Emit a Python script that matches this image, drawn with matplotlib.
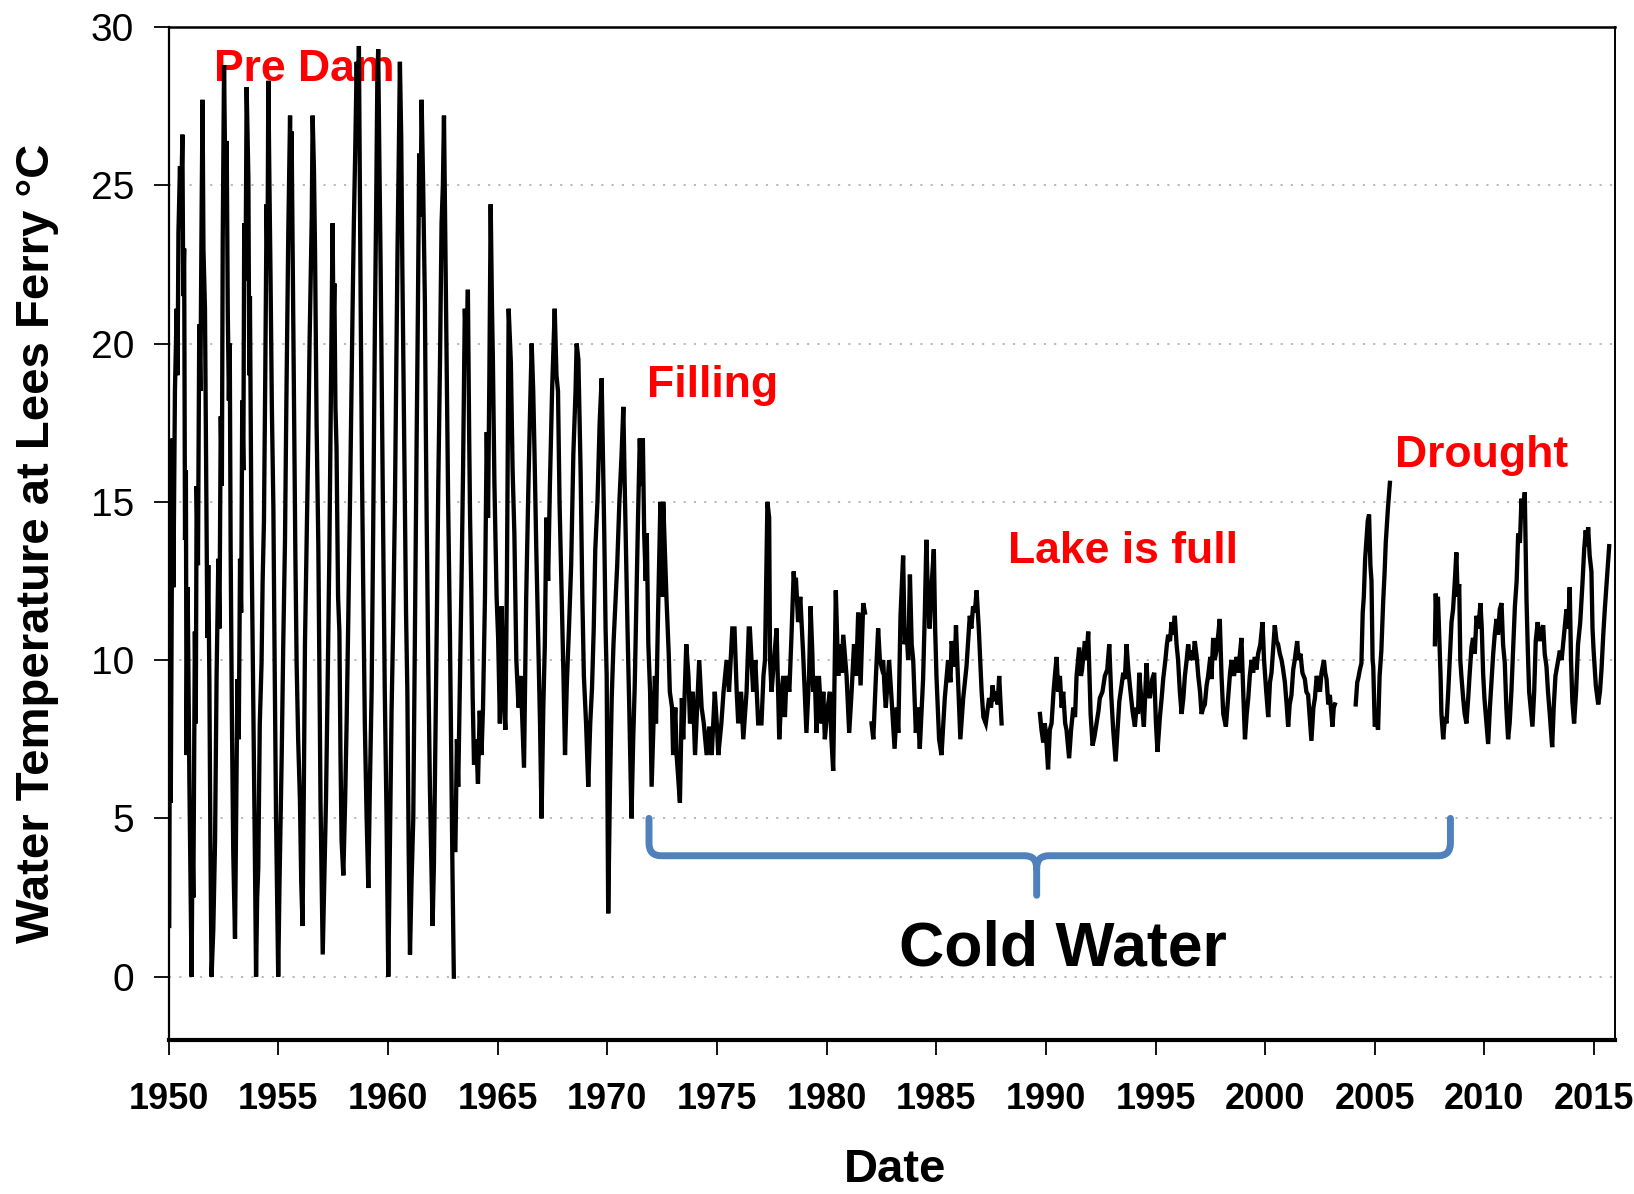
import numpy as np
import matplotlib
matplotlib.use("Agg")
import matplotlib.pyplot as plt
from matplotlib.path import Path
from matplotlib.patches import PathPatch

# (decimal year, water temperature degC), one list per unbroken stretch
predam = [
    (1950.02, 1.6), (1950.05, 9.0), (1950.09, 5.5), (1950.13, 11.1), (1950.17, 17.0), (1950.21, 12.3),
    (1950.28, 18.5), (1950.36, 21.1), (1950.40, 19.0), (1950.44, 23.5), (1950.51, 25.6), (1950.55, 23.8),
    (1950.62, 26.6), (1950.66, 21.5), (1950.70, 23.0), (1950.74, 13.8), (1950.78, 16.0), (1950.81, 7.0),
    (1950.86, 12.3), (1950.94, 6.1), (1951.04, 0.0), (1951.08, 4.3), (1951.12, 2.5), (1951.19, 10.9),
    (1951.23, 8.0), (1951.27, 15.5), (1951.33, 13.0), (1951.39, 20.6), (1951.44, 18.5), (1951.50, 24.4),
    (1951.54, 27.7), (1951.58, 23.0), (1951.65, 21.1), (1951.70, 16.5), (1951.76, 10.7), (1951.80, 13.0),
    (1951.85, 9.4), (1951.90, 4.0), (1951.95, 0.0), (1952.03, 1.5), (1952.11, 4.3), (1952.18, 9.5),
    (1952.26, 13.2), (1952.31, 11.0), (1952.37, 17.7), (1952.42, 15.5), (1952.46, 23.3), (1952.52, 28.8),
    (1952.58, 25.0), (1952.64, 26.4), (1952.69, 21.0), (1952.74, 18.2), (1952.78, 20.0), (1952.82, 13.6),
    (1952.88, 8.0), (1952.94, 3.9), (1953.02, 1.2), (1953.07, 5.0), (1953.13, 9.4), (1953.19, 7.5),
    (1953.25, 13.2), (1953.30, 11.5), (1953.35, 18.2), (1953.40, 16.0), (1953.44, 23.8), (1953.50, 22.0),
    (1953.55, 28.1), (1953.63, 25.2), (1953.67, 19.0), (1953.70, 21.5), (1953.77, 14.0), (1953.85, 9.0),
    (1953.91, 5.0), (1953.98, 0.0), (1954.03, 2.5), (1954.08, 3.4), (1954.15, 8.0), (1954.23, 9.9),
    (1954.28, 12.5), (1954.34, 14.4), (1954.40, 19.0), (1954.46, 24.4), (1954.50, 22.5), (1954.54, 28.3),
    (1954.59, 25.0), (1954.64, 22.1), (1954.70, 18.0), (1954.77, 14.8), (1954.82, 10.5), (1954.89, 5.1),
    (1954.99, 0.0), (1955.05, 3.0), (1955.15, 7.0), (1955.22, 10.5), (1955.30, 13.8), (1955.36, 18.0),
    (1955.45, 23.5), (1955.53, 27.2), (1955.57, 24.5), (1955.60, 26.7), (1955.66, 22.0), (1955.71, 18.2),
    (1955.77, 13.5), (1955.83, 9.9), (1955.90, 7.5), (1955.98, 5.6), (1956.04, 3.0), (1956.10, 1.6),
    (1956.16, 6.0), (1956.21, 10.5), (1956.28, 13.5), (1956.36, 16.9), (1956.42, 20.0), (1956.48, 22.3),
    (1956.52, 24.0), (1956.56, 27.2), (1956.62, 25.5), (1956.67, 22.9), (1956.74, 17.5), (1956.82, 13.6),
    (1956.87, 9.5), (1956.92, 5.5), (1957.02, 0.7), (1957.09, 3.0), (1957.17, 5.6), (1957.24, 9.0),
    (1957.32, 13.2), (1957.38, 17.5), (1957.43, 21.1), (1957.47, 23.8), (1957.51, 20.5), (1957.55, 21.9),
    (1957.60, 18.0), (1957.65, 16.7), (1957.72, 12.0), (1957.78, 10.9), (1957.83, 7.0), (1957.88, 4.3),
    (1957.96, 3.2), (1958.04, 5.5), (1958.11, 8.0), (1958.19, 11.5), (1958.26, 14.8), (1958.33, 18.5),
    (1958.38, 21.0), (1958.44, 23.8), (1958.50, 26.0), (1958.57, 28.9), (1958.62, 27.0), (1958.67, 29.4),
    (1958.72, 24.0), (1958.75, 21.3), (1958.81, 16.0), (1958.87, 12.1), (1958.94, 8.0), (1959.02, 5.1),
    (1959.10, 2.8), (1959.17, 6.0), (1959.25, 9.0), (1959.32, 14.0), (1959.40, 20.6), (1959.46, 24.5),
    (1959.51, 28.3), (1959.55, 29.3), (1959.60, 26.0), (1959.66, 22.5), (1959.72, 18.0), (1959.78, 13.8),
    (1959.85, 9.0), (1959.93, 5.1), (1960.01, 0.0), (1960.08, 4.0), (1960.16, 8.4), (1960.23, 11.0),
    (1960.31, 14.8), (1960.37, 19.0), (1960.43, 22.9), (1960.49, 26.0), (1960.54, 28.9), (1960.60, 26.5),
    (1960.65, 22.5), (1960.71, 18.5), (1960.77, 14.2), (1960.82, 11.5), (1960.88, 9.0), (1960.94, 4.0),
    (1961.00, 0.7), (1961.07, 3.0), (1961.15, 5.0), (1961.22, 10.5), (1961.30, 16.7), (1961.36, 21.0),
    (1961.42, 26.0), (1961.48, 24.0), (1961.53, 27.7), (1961.60, 25.0), (1961.68, 21.3), (1961.72, 17.5),
    (1961.76, 14.5), (1961.84, 9.5), (1961.91, 5.9), (1962.03, 1.6), (1962.09, 3.5), (1962.14, 6.3),
    (1962.22, 11.0), (1962.29, 15.5), (1962.37, 19.5), (1962.44, 23.8), (1962.50, 25.0), (1962.55, 27.2),
    (1962.61, 23.5), (1962.67, 19.5), (1962.74, 15.0), (1962.82, 10.9), (1962.88, 7.0), (1962.94, 3.2),
    (1963.00, 0.0),
]

filling = [
    (1963.07, 4.0), (1963.14, 7.5), (1963.20, 6.0), (1963.28, 9.4), (1963.35, 12.5), (1963.42, 16.0),
    (1963.50, 21.1), (1963.58, 19.5), (1963.64, 21.7), (1963.70, 17.0), (1963.74, 14.5), (1963.80, 12.0),
    (1963.86, 8.8), (1963.92, 6.7), (1964.02, 7.5), (1964.10, 6.1), (1964.18, 8.4), (1964.26, 7.0),
    (1964.33, 8.5), (1964.42, 12.0), (1964.50, 17.2), (1964.56, 14.5), (1964.62, 19.0), (1964.68, 24.4),
    (1964.74, 21.1), (1964.78, 19.5), (1964.85, 15.6), (1964.95, 12.0), (1965.02, 10.7), (1965.10, 8.0),
    (1965.18, 11.7), (1965.26, 9.0), (1965.35, 7.8), (1965.42, 12.5), (1965.50, 21.1), (1965.60, 19.4),
    (1965.68, 16.0), (1965.76, 14.0), (1965.85, 10.0), (1965.95, 8.5), (1966.05, 9.5), (1966.15, 7.5),
    (1966.20, 6.6), (1966.30, 12.0), (1966.40, 15.5), (1966.48, 18.0), (1966.55, 20.0), (1966.62, 18.5),
    (1966.68, 16.5), (1966.76, 13.5), (1966.85, 10.5), (1966.93, 8.0), (1967.00, 5.0), (1967.08, 8.5),
    (1967.15, 10.5), (1967.22, 14.5), (1967.30, 12.5), (1967.38, 15.5), (1967.48, 18.5), (1967.60, 21.1),
    (1967.68, 19.0), (1967.75, 18.5), (1967.82, 15.0), (1967.90, 12.5), (1968.00, 9.5), (1968.07, 7.0),
    (1968.15, 9.2), (1968.25, 11.0), (1968.35, 13.0), (1968.45, 16.5), (1968.55, 18.5), (1968.60, 20.0),
    (1968.68, 19.5), (1968.78, 16.0), (1968.86, 12.0), (1968.93, 9.5), (1969.03, 8.0), (1969.13, 6.0),
    (1969.22, 8.0), (1969.30, 9.1), (1969.38, 11.0), (1969.45, 13.5), (1969.55, 15.0), (1969.65, 17.5),
    (1969.74, 18.9), (1969.80, 16.5), (1969.86, 14.0), (1969.92, 11.0), (1969.97, 9.5), (1970.04, 2.0),
    (1970.12, 6.0), (1970.20, 8.8), (1970.28, 10.5), (1970.35, 11.5), (1970.45, 13.0), (1970.55, 15.0),
    (1970.65, 16.5), (1970.73, 18.0), (1970.78, 16.0), (1970.85, 13.5), (1970.92, 11.0), (1971.00, 8.5),
    (1971.10, 5.0), (1971.18, 7.5), (1971.25, 9.2), (1971.33, 12.0), (1971.40, 14.5), (1971.48, 17.0),
    (1971.55, 15.5), (1971.62, 17.0), (1971.68, 14.0), (1971.75, 12.5), (1971.80, 14.0), (1971.87, 10.5),
    (1971.95, 9.0), (1972.02, 6.0), (1972.17, 9.5), (1972.22, 8.0), (1972.30, 11.0), (1972.42, 15.0),
    (1972.50, 12.0), (1972.55, 15.0), (1972.70, 11.9), (1972.80, 10.2), (1972.85, 9.0), (1972.95, 8.5),
    (1973.00, 7.0), (1973.10, 8.5), (1973.16, 7.0), (1973.31, 5.5), (1973.40, 8.8), (1973.46, 7.5),
    (1973.60, 10.5), (1973.70, 9.5), (1973.77, 8.0), (1973.90, 9.0), (1974.00, 7.0), (1974.19, 10.0),
    (1974.30, 8.5), (1974.40, 8.0), (1974.53, 7.0), (1974.65, 7.9), (1974.76, 7.0), (1974.90, 9.0),
    (1975.00, 7.9), (1975.06, 7.0), (1975.20, 8.0), (1975.30, 9.0), (1975.44, 10.0), (1975.55, 9.0),
    (1975.70, 11.0), (1975.80, 11.0), (1975.90, 9.0), (1975.97, 8.0), (1976.10, 9.0), (1976.20, 7.5),
    (1976.35, 9.0), (1976.45, 11.0), (1976.50, 11.0), (1976.65, 9.0), (1976.75, 10.0), (1976.88, 8.0),
    (1977.03, 8.0), (1977.12, 9.5), (1977.19, 10.0), (1977.30, 15.0), (1977.38, 14.5), (1977.42, 10.0),
    (1977.49, 9.0), (1977.60, 10.0), (1977.72, 11.0), (1977.84, 7.5), (1977.95, 9.0), (1978.02, 9.5),
    (1978.10, 8.2), (1978.17, 9.5), (1978.30, 9.0), (1978.40, 10.8), (1978.50, 12.8), (1978.55, 12.2),
    (1978.60, 12.6), (1978.70, 11.2), (1978.80, 12.0), (1978.93, 10.2), (1979.00, 9.0), (1979.08, 7.7),
    (1979.20, 9.5), (1979.27, 11.7), (1979.35, 10.2), (1979.39, 9.0), (1979.46, 9.5), (1979.54, 7.7),
    (1979.65, 9.5), (1979.77, 8.0), (1979.85, 9.0), (1979.92, 7.5), (1980.05, 8.5), (1980.15, 9.0),
    (1980.22, 7.5), (1980.30, 6.5), (1980.42, 12.2), (1980.53, 9.5), (1980.60, 10.5), (1980.68, 9.6),
    (1980.76, 10.8), (1980.91, 9.5), (1981.03, 7.7), (1981.14, 9.0), (1981.25, 10.5), (1981.35, 9.5),
    (1981.44, 11.5), (1981.55, 9.2), (1981.67, 11.8), (1981.75, 11.5),
]

full_early = [
    (1982.05, 8.0), (1982.13, 7.5), (1982.25, 9.5), (1982.35, 11.0), (1982.43, 10.0), (1982.50, 9.8),
    (1982.58, 10.0), (1982.65, 9.0), (1982.70, 8.5), (1982.85, 10.0), (1982.96, 8.8), (1983.10, 7.2),
    (1983.20, 8.5), (1983.27, 7.7), (1983.37, 11.4), (1983.49, 13.3), (1983.56, 10.5), (1983.64, 11.0),
    (1983.72, 10.0), (1983.80, 12.7), (1983.88, 10.5), (1983.95, 10.0), (1984.07, 7.7), (1984.15, 8.5),
    (1984.25, 7.2), (1984.40, 9.4), (1984.48, 11.5), (1984.55, 13.8), (1984.62, 12.0), (1984.70, 11.0),
    (1984.80, 12.5), (1984.89, 13.5), (1984.95, 11.0), (1985.01, 9.5), (1985.13, 7.5), (1985.24, 7.0),
    (1985.39, 8.8), (1985.54, 10.0), (1985.65, 9.3), (1985.70, 10.6), (1985.77, 10.3), (1985.85, 9.8),
    (1985.90, 11.1), (1985.97, 9.8), (1986.10, 7.5), (1986.23, 8.8), (1986.38, 9.8), (1986.53, 11.4),
    (1986.60, 11.0), (1986.68, 11.7), (1986.76, 11.5), (1986.84, 12.2), (1986.94, 11.0), (1987.07, 9.0),
    (1987.15, 8.2), (1987.26, 8.0), (1987.41, 8.8), (1987.50, 8.5), (1987.57, 9.2), (1987.65, 8.7),
    (1987.72, 9.0), (1987.80, 8.6), (1987.87, 9.5), (1987.98, 8.0),
]

full_late = [
    (1989.73, 8.3), (1989.80, 7.8), (1989.88, 7.4), (1989.95, 8.0), (1990.00, 7.7), (1990.10, 6.55),
    (1990.18, 7.8), (1990.26, 8.0), (1990.35, 9.0), (1990.41, 9.5), (1990.49, 10.1), (1990.56, 9.0),
    (1990.64, 9.5), (1990.72, 8.5), (1990.79, 9.0), (1990.88, 8.0), (1990.94, 7.8), (1991.06, 6.9),
    (1991.15, 7.8), (1991.25, 8.5), (1991.33, 8.2), (1991.40, 9.5), (1991.52, 10.4), (1991.60, 9.5),
    (1991.65, 9.7), (1991.78, 10.6), (1991.85, 10.0), (1991.93, 10.9), (1992.04, 8.3), (1992.13, 7.3),
    (1992.22, 7.6), (1992.31, 8.0), (1992.40, 8.4), (1992.46, 8.8), (1992.58, 9.0), (1992.69, 9.5),
    (1992.80, 9.7), (1992.89, 10.5), (1992.98, 8.9), (1993.07, 7.8), (1993.18, 6.8), (1993.27, 7.8),
    (1993.35, 8.7), (1993.45, 9.2), (1993.53, 9.6), (1993.60, 9.4), (1993.68, 10.5), (1993.76, 9.7),
    (1993.83, 9.2), (1993.95, 8.4), (1994.06, 7.9), (1994.13, 8.5), (1994.20, 8.3), (1994.26, 9.6),
    (1994.36, 8.7), (1994.47, 7.9), (1994.59, 9.9), (1994.66, 9.0), (1994.74, 8.8), (1994.85, 9.4),
    (1994.94, 9.6), (1995.02, 8.0), (1995.09, 7.1), (1995.20, 8.2), (1995.28, 8.8), (1995.35, 9.4),
    (1995.45, 10.0), (1995.52, 10.5), (1995.58, 10.8), (1995.66, 10.6), (1995.73, 11.2), (1995.80, 10.8),
    (1995.88, 11.4), (1995.96, 10.5), (1996.03, 10.0), (1996.11, 9.0), (1996.19, 8.3), (1996.27, 8.8),
    (1996.34, 9.5), (1996.42, 10.0), (1996.49, 10.5), (1996.57, 10.0), (1996.64, 10.3), (1996.72, 10.0),
    (1996.79, 10.6), (1996.88, 10.1), (1996.95, 9.5), (1997.03, 9.0), (1997.10, 8.3), (1997.18, 8.5),
    (1997.25, 8.6), (1997.33, 9.2), (1997.40, 9.5), (1997.50, 10.1), (1997.55, 9.4), (1997.63, 10.7),
    (1997.70, 10.0), (1997.78, 10.3), (1997.86, 10.8), (1997.93, 11.3), (1998.01, 9.5), (1998.09, 8.3),
    (1998.21, 7.9), (1998.31, 8.8), (1998.40, 9.6), (1998.47, 10.0), (1998.58, 9.5), (1998.70, 10.1),
    (1998.78, 9.6), (1998.85, 10.2), (1998.92, 10.7), (1999.00, 9.0), (1999.08, 7.5), (1999.16, 8.3),
    (1999.23, 8.8), (1999.30, 9.5), (1999.38, 10.0), (1999.45, 9.6), (1999.53, 10.1), (1999.60, 9.7),
    (1999.68, 10.2), (1999.78, 10.5), (1999.88, 11.2), (1999.95, 10.0), (2000.05, 9.0), (2000.14, 8.2),
    (2000.22, 9.3), (2000.29, 9.6), (2000.37, 10.4), (2000.44, 11.1), (2000.52, 10.6), (2000.59, 10.5),
    (2000.67, 10.2), (2000.75, 10.0), (2000.82, 9.7), (2000.90, 9.3), (2000.98, 8.6), (2001.05, 7.9),
    (2001.12, 8.6), (2001.20, 8.9), (2001.28, 9.7), (2001.35, 10.0), (2001.46, 10.6), (2001.53, 10.0),
    (2001.61, 10.2), (2001.70, 9.6), (2001.81, 9.4), (2001.88, 9.0), (2001.96, 8.9), (2002.04, 8.1),
    (2002.11, 7.45), (2002.20, 8.5), (2002.27, 8.8), (2002.35, 9.5), (2002.42, 9.3), (2002.50, 9.0),
    (2002.57, 9.6), (2002.68, 10.0), (2002.74, 9.6), (2002.80, 9.4), (2002.88, 8.6), (2002.95, 8.9),
    (2003.07, 7.9), (2003.13, 8.5), (2003.18, 8.6),
]

drought_early = [
    (2004.13, 8.6), (2004.20, 9.3), (2004.24, 9.4), (2004.32, 9.7), (2004.39, 9.9), (2004.45, 11.5),
    (2004.50, 12.0), (2004.56, 13.2), (2004.62, 13.8), (2004.68, 14.4), (2004.74, 14.6), (2004.80, 13.0),
    (2004.85, 12.5), (2004.90, 10.0), (2004.93, 9.8), (2005.00, 7.9), (2005.08, 8.1), (2005.15, 7.8),
    (2005.22, 9.5), (2005.30, 10.3), (2005.38, 11.8), (2005.45, 12.8), (2005.50, 13.7), (2005.60, 14.8),
    (2005.69, 15.6),
]

drought_late = [
    (2007.74, 10.5), (2007.78, 12.1), (2007.81, 11.5), (2007.88, 12.0), (2007.94, 10.8), (2008.00, 9.5),
    (2008.04, 8.3), (2008.12, 7.5), (2008.20, 8.2), (2008.27, 8.0), (2008.35, 9.0), (2008.42, 10.0),
    (2008.50, 11.2), (2008.57, 11.6), (2008.65, 12.5), (2008.72, 13.4), (2008.78, 12.0), (2008.85, 12.4),
    (2008.90, 10.0), (2008.95, 9.5), (2009.03, 8.8), (2009.10, 8.3), (2009.18, 8.0), (2009.26, 8.8),
    (2009.33, 9.6), (2009.41, 10.4), (2009.48, 10.7), (2009.56, 10.2), (2009.64, 11.4), (2009.72, 11.0),
    (2009.82, 11.8), (2009.88, 11.0), (2009.94, 9.6), (2010.00, 8.8), (2010.06, 8.3), (2010.12, 7.8),
    (2010.17, 7.35), (2010.25, 8.5), (2010.32, 9.3), (2010.40, 10.2), (2010.47, 10.8), (2010.55, 11.3),
    (2010.62, 10.8), (2010.70, 11.6), (2010.78, 11.8), (2010.85, 10.5), (2010.93, 9.9), (2011.00, 8.5),
    (2011.08, 7.5), (2011.15, 8.0), (2011.23, 9.0), (2011.30, 10.2), (2011.39, 11.7), (2011.47, 12.5),
    (2011.54, 14.0), (2011.62, 13.7), (2011.69, 15.1), (2011.77, 14.5), (2011.84, 15.3), (2011.92, 11.9),
    (2011.98, 10.3), (2012.04, 9.0), (2012.12, 8.4), (2012.19, 7.9), (2012.27, 9.0), (2012.34, 10.6),
    (2012.43, 11.2), (2012.52, 10.6), (2012.60, 10.9), (2012.68, 11.1), (2012.75, 10.2), (2012.83, 9.8),
    (2012.90, 9.0), (2012.98, 8.3), (2013.09, 7.25), (2013.16, 8.5), (2013.24, 9.5), (2013.34, 9.9),
    (2013.44, 10.3), (2013.52, 10.0), (2013.59, 10.5), (2013.66, 11.0), (2013.74, 11.6), (2013.82, 11.0),
    (2013.89, 12.3), (2013.95, 10.0), (2014.01, 8.7), (2014.09, 8.0), (2014.18, 9.0), (2014.27, 10.5),
    (2014.37, 11.2), (2014.47, 12.4), (2014.55, 13.5), (2014.62, 14.1), (2014.68, 13.6), (2014.73, 14.2),
    (2014.80, 13.3), (2014.88, 12.8), (2014.93, 11.0), (2014.98, 10.3), (2015.08, 9.2), (2015.19, 8.6),
    (2015.27, 9.0), (2015.34, 9.7), (2015.42, 10.8), (2015.49, 11.6), (2015.58, 12.5), (2015.69, 13.6),
]

segments = [predam, filling, full_early, full_late, drought_early, drought_late]

year_ticks = list(range(1950, 2016, 5))
temp_ticks = [0, 5, 10, 15, 20, 25, 30]

labels = [
    ("Pre Dam", 1956.17, 28.65, "red", 32),
    ("Filling", 1974.81, 18.68, "red", 32),
    ("Lake is full", 1993.53, 13.42, "red", 32),
    ("Drought", 2009.88, 16.45, "red", 32),
    ("Cold Water", 1990.77, 0.86, "black", 45),
]

# join the stretches with NaN so the gaps in the record stay open
years, temps = [], []
for seg in segments:
    years += [p[0] for p in seg] + [np.nan]
    temps += [p[1] for p in seg] + [np.nan]

plt.rcParams["font.family"] = ["Liberation Sans", "DejaVu Sans"]

fig = plt.figure(figsize=(16.34, 11.94), dpi=100)
ax = fig.add_axes([0.1033, 0.129, 0.885, 0.8484])

for t in temp_ticks[:-1]:
    ax.axhline(t, color="#b4b4b4", lw=1.3, ls=(0, (1.2, 4.5)), zorder=0)

ax.plot(years, temps, color="black", lw=3.1, solid_joinstyle="miter", zorder=2)

ax.set_xlim(1950, 2015.95)
ax.set_ylim(-2, 30)
ax.set_xticks(year_ticks)
ax.set_yticks(temp_ticks)

ax.tick_params(axis="both", direction="out", length=11, width=1.3, color="black")
ax.tick_params(axis="x", pad=19)
ax.tick_params(axis="y", pad=14, labelsize=28)
for lab in ax.get_xticklabels():
    lab.set_fontweight("bold")
    lab.set_fontsize(26)

ax.spines["left"].set_linewidth(1.6)
ax.spines["bottom"].set_linewidth(3.0)
ax.spines["top"].set_linewidth(1.8)
ax.spines["right"].set_linewidth(1.4)

ax.set_xlabel("Date", fontsize=34, fontweight="bold")
ax.set_ylabel("Water Temperature at Lees Ferry \u00b0C", fontsize=34, fontweight="bold")
ax.xaxis.label.set_va("center")
ax.yaxis.label.set_va("center")
ax.xaxis.set_label_coords(0.502, -0.128)
ax.yaxis.set_label_coords(-0.091, 0.49)

# the labels sit under the data line, as in the original
for text, x, y, color, size in labels:
    ax.text(x, y, text, color=color, fontsize=size, fontweight="bold",
            ha="center", va="center", zorder=1)

# curly brace under the cold-water years
x0, x1, xm = 1971.9, 2008.45, 1989.58
ytop, ybar, ytip = 5.0, 3.82, 2.57
rx, ry = 0.55, 0.4
verts = [
    (x0, ytop), (x0, ybar + ry), (x0, ybar), (x0 + rx, ybar), (xm - rx, ybar),
    (xm, ybar), (xm, ybar - ry), (xm, ytip),
    (xm, ybar - ry), (xm, ybar), (xm + rx, ybar), (x1 - rx, ybar),
    (x1, ybar), (x1, ybar + ry), (x1, ytop),
]
codes = [
    Path.MOVETO, Path.LINETO, Path.CURVE3, Path.CURVE3, Path.LINETO,
    Path.CURVE3, Path.CURVE3, Path.LINETO,
    Path.MOVETO, Path.CURVE3, Path.CURVE3, Path.LINETO,
    Path.CURVE3, Path.CURVE3, Path.LINETO,
]
brace = PathPatch(Path(verts, codes), facecolor="none", edgecolor="#4f81bd",
                  lw=5, capstyle="round", joinstyle="round", zorder=3)
ax.add_patch(brace)

fig.savefig("out.png", dpi=100)
plt.close(fig)
